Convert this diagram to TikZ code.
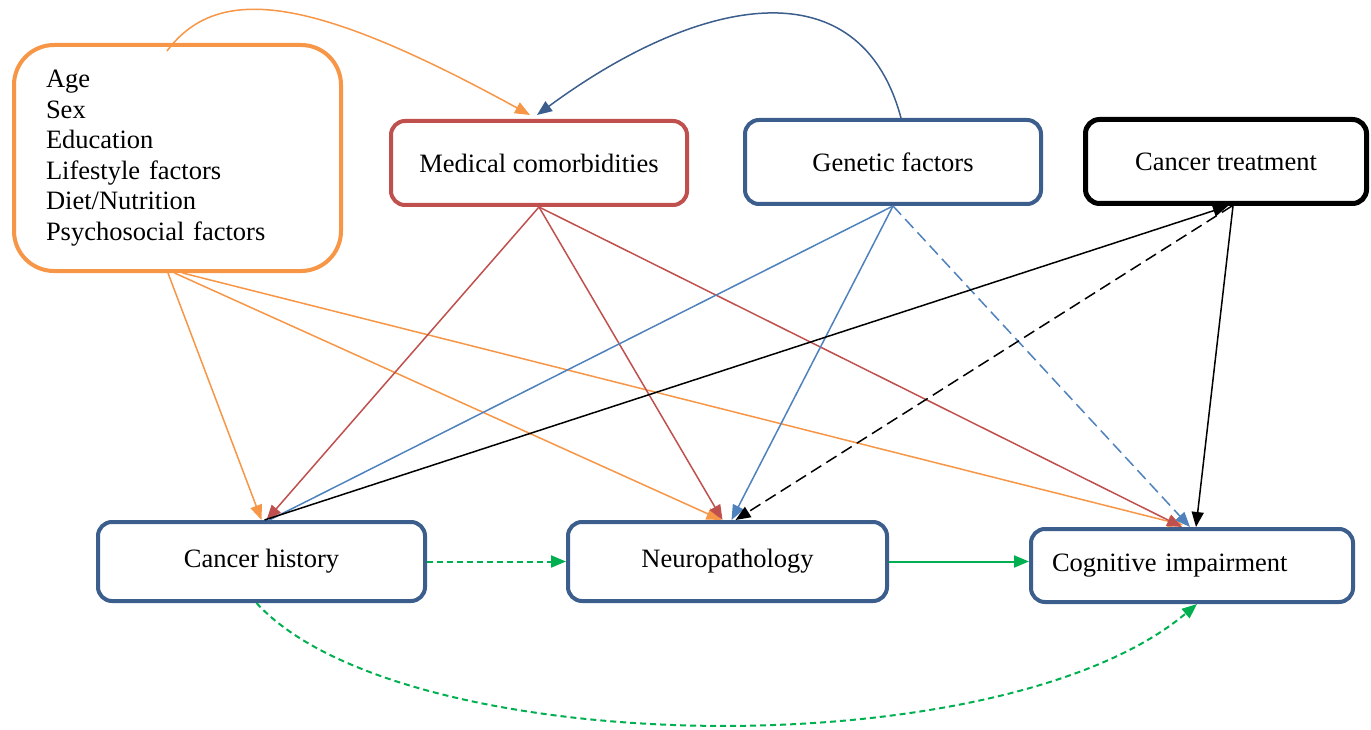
\documentclass[tikz,border=0pt]{standalone}
\usepackage{fontspec}
\setmainfont{Liberation Serif}
\usetikzlibrary{arrows.meta,calc}
\definecolor{corange}{HTML}{F79646}
\definecolor{cred}{HTML}{C0504D}
\definecolor{cdblue}{HTML}{3B5E8C}
\definecolor{clblue}{HTML}{4F81BD}
\definecolor{cgreen}{HTML}{00B050}
\begin{document}
\begin{tikzpicture}[x=1pt,y=-1pt,
  box/.style={draw=cdblue, line width=4pt, rounded corners=14pt, fill=white, inner sep=0pt,
    font=\fontsize{26.5}{30.5}\selectfont},
  conn/.style={line width=1.5pt, -{Triangle[length=15pt,width=12pt]}},
  plain/.style={line width=1.5pt}
]
\useasboundingbox (0,0) rectangle (1371,730);

% boxes
\node[box, draw=corange, rounded corners=40pt, minimum width=327pt, minimum height=226pt,
      text width=263pt, align=left, inner xsep=32pt] (demo) at (177.5,158)
  {Age\\Sex\\Education\\Lifestyle factors\\Diet/Nutrition\\Psychosocial factors};
\node[box, draw=cred, minimum width=296pt, minimum height=84pt] (med) at (539,163) {Medical comorbidities};
\node[box, minimum width=296pt, minimum height=84pt] (gen) at (893,162) {Genetic factors};
\node[box, draw=black, line width=5pt, minimum width=281pt, minimum height=84pt] (trt) at (1226,161.5) {Cancer treatment};
\node[box, minimum width=327pt, minimum height=79pt] (ch) at (261.5,561.5) {Cancer history};
\node[box, minimum width=319pt, minimum height=79pt] (np) at (727.5,561.5) {Neuropathology};
\node[box, minimum width=322pt, minimum height=73pt, text width=280pt, align=left, inner xsep=21pt] (ci) at (1192,565.5) {Cognitive impairment};

% top curves
\draw[conn, corange] ([xshift=-10.5pt,yshift=-8pt]demo.north) .. controls (220,-20) and (320,0) .. ([xshift=-9pt,yshift=4pt]med.north);
\draw[conn, cdblue] ([xshift=8pt]gen.north) .. controls (860,-35) and (700,-5) .. ([xshift=-2pt,yshift=4pt]med.north);

% orange
\draw[conn, corange] ([xshift=-9.5pt]demo.south) -- ([xshift=0pt]ch.north);
\draw[conn, corange] ([xshift=-3pt]demo.south) -- ([xshift=-6pt]np.north);
\draw[conn, corange] ([xshift=5pt]demo.south) -- ([xshift=-9pt,yshift=2pt]ci.north);

% red
\draw[conn, cred] (med.south) -- ([xshift=5pt]ch.north);
\draw[conn, cred] (med.south) -- ([xshift=-5pt]np.north);
\draw[conn, cred] (med.south) -- ([xshift=-10pt]ci.north);

% light blue
\draw[plain, clblue] (gen.south) -- ([xshift=8pt]ch.north);
\draw[conn, clblue] (gen.south) -- ([xshift=4pt]np.north);
\draw[conn, clblue, dash pattern=on 12pt off 6pt] (gen.south) -- ([xshift=-2pt]ci.north);

% black
\draw[conn, black] ([xshift=3pt]ch.north) -- ([xshift=2pt]trt.south);
\draw[conn, black, dash pattern=on 12pt off 6pt] ([xshift=6pt]trt.south) -- ([xshift=8pt]np.north);
\draw[conn, black] ([xshift=7pt]trt.south) -- ([xshift=4pt]ci.north);

% green
\draw[conn, cgreen, dash pattern=on 6pt off 4pt, line width=2pt] (ch.east) -- (np.west);
\draw[conn, cgreen, line width=2pt] (np.east) -- (np.east -| ci.west);
\draw[conn, cgreen, dash pattern=on 6pt off 4pt, line width=2pt] ([xshift=-5pt]ch.south) .. controls (400,760) and (1000,770) .. ([xshift=5pt]ci.south);
\end{tikzpicture}
\end{document}
